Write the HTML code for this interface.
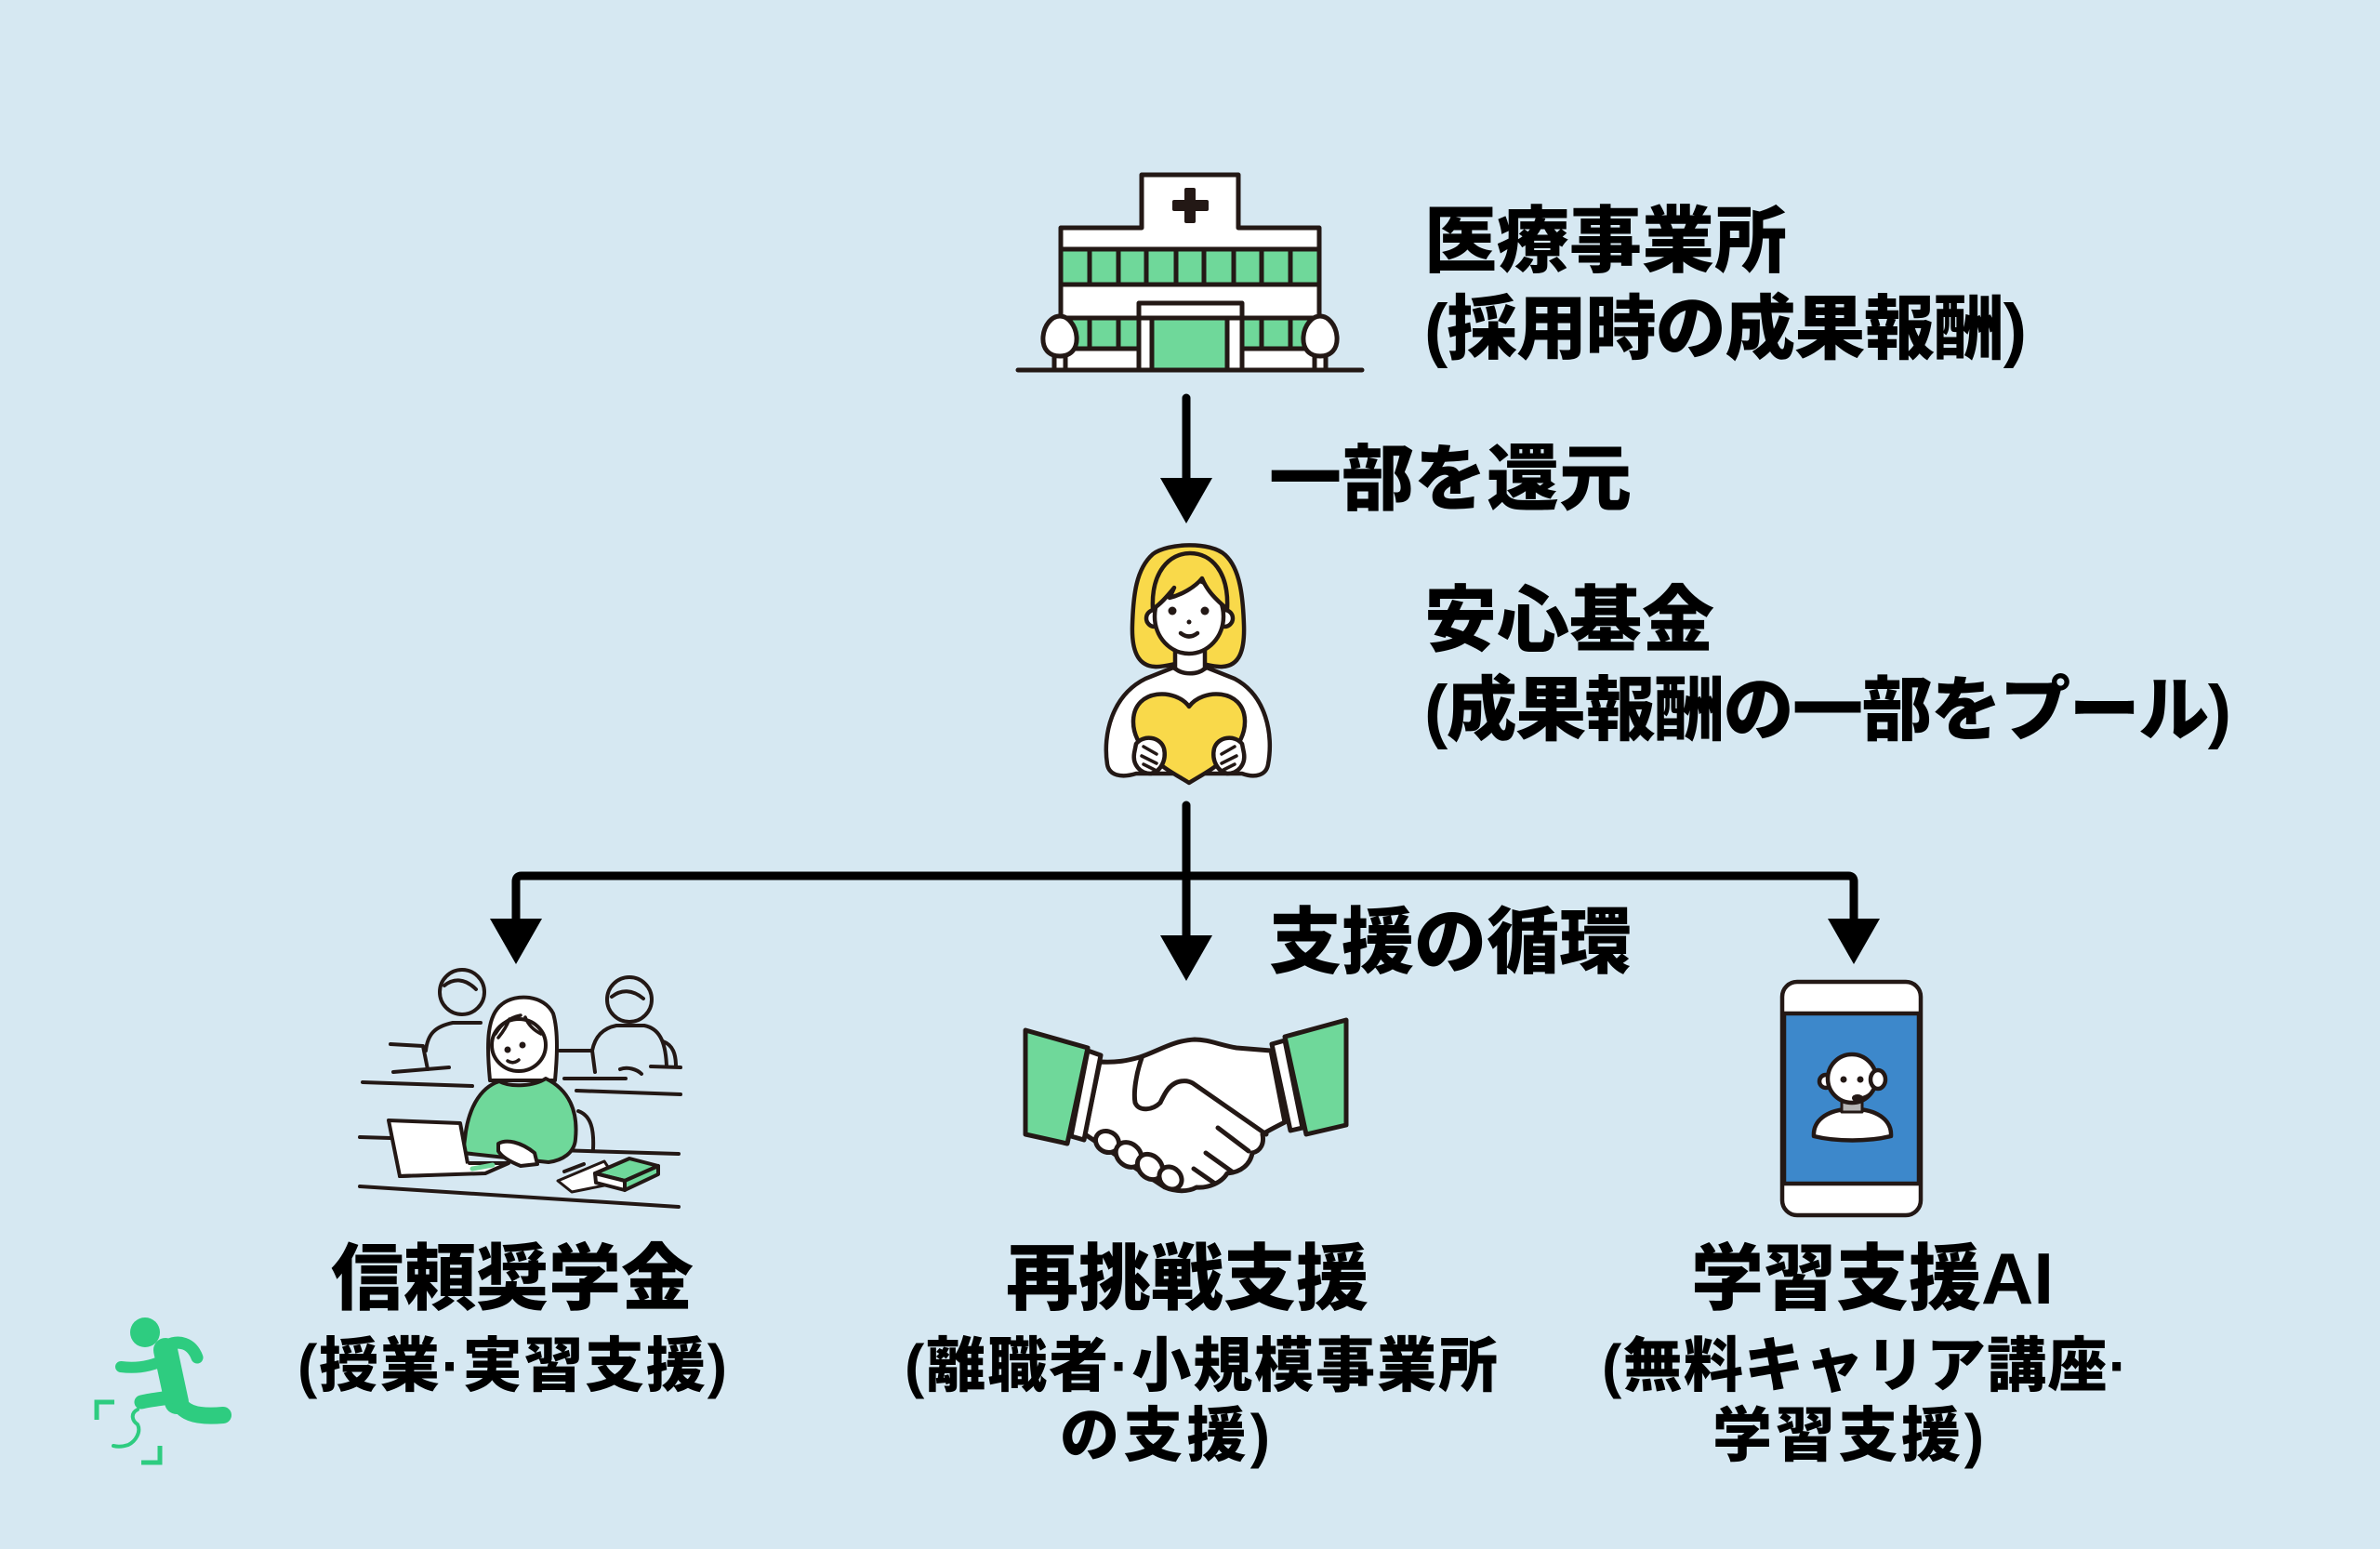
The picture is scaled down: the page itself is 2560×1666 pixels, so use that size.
<!DOCTYPE html>
<html lang="ja">
<head>
<meta charset="utf-8">
<style>
html,body{margin:0;padding:0;}
body{width:2560px;height:1666px;background:#d6e8f2;overflow:hidden;}
svg{display:block;}
text{font-family:"Liberation Sans","Noto Sans CJK JP",sans-serif;font-weight:900;fill:#000;}
</style>
</head>
<body>
<svg width="2560" height="1666" viewBox="0 0 2560 1666" xmlns="http://www.w3.org/2000/svg">
<rect x="0" y="0" width="2560" height="1666" fill="#d6e8f2"/>

<!-- ================= HOSPITAL ================= -->
<g stroke="#231815" stroke-width="5" stroke-linejoin="round">
  <path d="M1141,398 V245 H1228 V188 H1332 V245 H1419 V398 Z" fill="#ffffff"/>
  <rect x="1141" y="268" width="278" height="38" fill="#6fd89a"/>
  <g fill="none">
    <path d="M1172,268V306M1203,268V306M1233,268V306M1265,268V306M1295,268V306M1327,268V306M1357,268V306M1388,268V306"/>
  </g>
  <rect x="1141" y="342" width="84" height="33" fill="#6fd89a"/>
  <rect x="1336" y="342" width="83" height="33" fill="#6fd89a"/>
  <path d="M1172,342V375M1203,342V375M1357,342V375M1388,342V375" fill="none"/>
  <rect x="1225" y="326" width="111" height="72" fill="#ffffff"/>
  <path d="M1225,342H1336" fill="none"/>
  <rect x="1239" y="342" width="81" height="56" fill="#6fd89a"/>
  <!-- trees -->
  <rect x="1134" y="381" width="12" height="17" fill="#ffffff"/>
  <path d="M1140,383 C1128,383 1121,375 1122,362 C1123,350 1131,340 1140,340 C1149,340 1157,350 1158,362 C1159,375 1152,383 1140,383 Z" fill="#ffffff"/>
  <rect x="1414" y="381" width="12" height="17" fill="#ffffff"/>
  <path d="M1420,383 C1408,383 1401,375 1402,362 C1403,350 1411,340 1420,340 C1429,340 1437,350 1438,362 C1439,375 1432,383 1420,383 Z" fill="#ffffff"/>
  <path d="M1095,398 H1465" fill="none" stroke-linecap="round"/>
</g>
<g fill="#231815">
  <rect x="1274" y="202" width="12" height="38" rx="2"/>
  <rect x="1261" y="215" width="39" height="12" rx="2"/>
</g>

<!-- ================= ARROW 1 ================= -->
<path d="M1276,428 V522" stroke="#000" stroke-width="9" stroke-linecap="round" fill="none"/>
<polygon points="1248,514 1304,514 1276,563" fill="#000"/>

<!-- ================= WOMAN ================= -->
<g stroke="#231815" stroke-width="4.5" stroke-linejoin="round" stroke-linecap="round">
  <path d="M1242,717 C1224,716 1217,700 1218,672 C1219,640 1222,612 1240,596 C1256,584 1302,582 1318,597 C1334,612 1337,642 1338,672 C1339,700 1333,716 1315,717 C1305,718 1290,712 1279,712 C1268,712 1252,718 1242,717 Z" fill="#f9d94a"/>
  <path d="M1191,822 C1186,790 1196,748 1232,730 L1262,718 C1270,724 1290,724 1298,718 L1328,730 C1362,748 1370,790 1364,822 C1362,834 1350,837 1336,832 L1222,832 C1206,837 1193,834 1191,822 Z" fill="#ffffff"/>
  <path d="M1264,695 L1264,719 C1272,726 1288,726 1296,719 L1296,695 Z" fill="#ffffff"/>
  <circle cx="1242" cy="665" r="9" fill="#ffffff"/>
  <circle cx="1317" cy="665" r="9" fill="#ffffff"/>
  <ellipse cx="1279" cy="663" rx="37" ry="40" fill="#ffffff"/>
  <path d="M1240,655 C1238,615 1258,595 1280,595 C1303,595 1322,615 1320,655 C1308,645 1298,635 1293,622 C1285,632 1270,640 1258,643 L1263,632 C1255,642 1248,650 1240,655 Z" fill="#f9d94a"/>
  <path d="M1270,681 Q1279,688 1288,681" fill="none"/>
  <path d="M1279,760 C1265,740 1220,740 1219,775 C1218,810 1260,830 1279,842 C1298,830 1340,810 1339,775 C1338,740 1293,740 1279,760 Z" fill="#f9d94a"/>
  <path d="M1222,800 C1230,790 1248,792 1252,805 C1255,818 1248,830 1238,832 C1226,832 1218,822 1220,810 Z" fill="#ffffff"/>
  <path d="M1230,803 L1244,811 M1228,813 L1244,821 M1230,822 L1242,828" fill="none" stroke-width="3.5"/>
  <path d="M1336,800 C1328,790 1310,792 1306,805 C1303,818 1310,830 1320,832 C1332,832 1340,822 1338,810 Z" fill="#ffffff"/>
  <path d="M1328,803 L1314,811 M1330,813 L1314,821 M1328,822 L1316,828" fill="none" stroke-width="3.5"/>
</g>
<g fill="#231815">
  <circle cx="1261" cy="657" r="4.5"/>
  <circle cx="1296" cy="657" r="4.5"/>
  <circle cx="1279" cy="669" r="2.5"/>
</g>

<!-- ================= BRANCH ARROWS ================= -->
<g stroke="#000" stroke-width="9" fill="none" stroke-linecap="round" stroke-linejoin="round">
  <path d="M1276,866 V1010"/>
  <path d="M555,992 V948 Q555,942 561,942 H1988 Q1994,942 1994,948 V992"/>
</g>
<g fill="#000">
  <polygon points="527,988 583,988 555,1037"/>
  <polygon points="1966,988 2022,988 1994,1037"/>
  <polygon points="1248,1006 1304,1006 1276,1055"/>
</g>

<!-- ================= CLASSROOM ================= -->
<g stroke="#231815" stroke-width="4" stroke-linecap="round" stroke-linejoin="round" fill="none">
  <!-- back left person -->
  <circle cx="497" cy="1067" r="24"/>
  <path d="M478,1060 C488,1052 500,1052 512,1064"/>
  <path d="M458,1130 C460,1112 468,1104 487,1100 L517,1100"/>
  <path d="M420,1123 L455,1125 L460,1150"/>
  <path d="M423,1153 L483,1148"/>
  <!-- back right person -->
  <circle cx="677" cy="1075" r="24"/>
  <path d="M658,1072 C668,1064 680,1064 692,1074"/>
  <path d="M637,1130 C640,1115 648,1106 663,1103 L693,1103 C708,1106 716,1118 717,1147"/>
  <path d="M602,1130 L637,1130 L640,1153"/>
  <path d="M607,1160 L673,1160"/>
  <path d="M667,1150 C675,1147 685,1150 690,1155"/>
  <path d="M713,1120 C724,1124 727,1134 727,1147"/>
  <path d="M700,1147 L732,1148"/>
  <!-- desks -->
  <path d="M390,1164 L508,1168"/>
  <path d="M620,1173 L732,1177"/>
  <path d="M387,1223 L420,1224"/>
  <path d="M600,1237 L730,1241"/>
  <path d="M387,1276 L730,1298"/>
  <!-- chair -->
  <path d="M622,1195 C636,1200 639,1215 638,1236"/>
</g>
<g stroke="#231815" stroke-width="4" stroke-linecap="round" stroke-linejoin="round">
  <!-- girl hair -->
  <path d="M527,1162 C523,1120 524,1092 540,1080 C555,1068 585,1070 595,1090 C601,1110 599,1140 597,1162 Z" fill="#ffffff"/>
  <!-- sweater -->
  <path d="M537,1163 C515,1170 503,1195 500,1225 L498,1240 L590,1250 C605,1248 618,1240 619,1225 C622,1195 612,1172 587,1160 C575,1168 550,1170 537,1163 Z" fill="#6fd89a"/>
  <!-- face -->
  <ellipse cx="558" cy="1124" rx="29" ry="28" fill="#ffffff"/>
  <path d="M533,1112 C540,1100 550,1094 560,1092 M548,1096 C545,1104 541,1110 536,1116 M565,1094 C568,1102 574,1108 582,1112" fill="none" stroke-width="3.5"/>
  <path d="M546,1141 Q552,1145 558,1140" fill="none" stroke-width="3.5"/>
  <!-- laptop -->
  <polygon points="418,1205 495,1208 505,1262 430,1265" fill="#ffffff"/>
  <path d="M430,1265 L522,1262 L547,1251 L505,1251" fill="#ffffff"/>
  <path d="M508,1257 L530,1253" stroke="#6fd89a" stroke-width="5"/>
  <!-- hand -->
  <path d="M536,1230 C545,1225 560,1228 575,1240 L578,1252 L560,1254 C550,1250 540,1245 536,1238 Z" fill="#ffffff"/>
  <!-- paper -->
  <polygon points="600,1270 650,1249 665,1272 615,1282" fill="#ffffff" stroke-width="3"/>
  <path d="M607,1260 L628,1252" fill="none"/>
  <!-- book -->
  <polygon points="640,1262 677,1246 708,1254 672,1270" fill="#6fd89a"/>
  <polygon points="640,1262 672,1270 672,1280 641,1272" fill="#ffffff"/>
  <polygon points="672,1270 708,1254 708,1263 672,1280" fill="#6fd89a"/>
</g>
<g fill="#231815">
  <circle cx="546" cy="1129" r="3.5"/>
  <circle cx="562" cy="1124" r="3.5"/>
</g>

<!-- ================= HANDSHAKE ================= -->
<g stroke="#231815" stroke-width="5" stroke-linejoin="round" stroke-linecap="round">
  <path d="M1183,1142 C1200,1143 1212,1141 1226,1137 C1245,1131 1262,1119 1285,1118 C1300,1118 1312,1124 1330,1127 L1367,1130 L1382,1207 C1372,1212 1364,1216 1358,1220 C1360,1230 1356,1238 1347,1240 C1345,1252 1335,1261 1320,1262 C1314,1272 1300,1278 1287,1277 C1278,1282 1265,1282 1253,1277 L1230,1262 L1167,1220 Z" fill="#ffffff"/>
  <ellipse cx="1191" cy="1228" rx="13" ry="11" fill="#ffffff" transform="rotate(30 1191 1228)"/>
  <ellipse cx="1214" cy="1242" rx="15" ry="12" fill="#ffffff" transform="rotate(40 1214 1242)"/>
  <ellipse cx="1237" cy="1255" rx="15" ry="12" fill="#ffffff" transform="rotate(45 1237 1255)"/>
  <ellipse cx="1259" cy="1267" rx="13" ry="11" fill="#ffffff" transform="rotate(45 1259 1267)"/>
  <path d="M1228,1138 C1222,1155 1219,1175 1221,1186 C1225,1196 1240,1194 1248,1186 C1252,1178 1256,1168 1266,1164 C1272,1162 1278,1162 1283,1165 L1362,1220" fill="#ffffff"/>
  <path d="M1310,1213 L1343,1238 M1297,1240 L1325,1260 M1284,1257 L1307,1273" fill="none"/>
  <polygon points="1103,1108 1170,1127 1148,1230 1103,1220" fill="#6fd89a"/>
  <polygon points="1170,1130 1184,1135 1166,1226 1152,1222" fill="#ffffff"/>
  <polygon points="1382,1115 1448,1097 1448,1210 1405,1220" fill="#6fd89a"/>
  <polygon points="1368,1123 1382,1119 1401,1213 1388,1216" fill="#ffffff"/>
</g>

<!-- ================= PHONE ================= -->
<g stroke="#231815" stroke-width="4.5" stroke-linejoin="round">
  <rect x="1917" y="1056" width="149" height="251" rx="16" fill="#ffffff"/>
  <rect x="1919" y="1090" width="145" height="183" fill="#3d88cb"/>
  <path d="M1951,1222 C1950,1205 1965,1195 1985,1193 L2000,1193 C2020,1195 2035,1205 2034,1222 C2010,1228 1975,1228 1951,1222 Z" fill="#ffffff"/>
  <rect x="1981" y="1184" width="22" height="12" fill="#b5b5b5" stroke-width="3"/>
  <circle cx="1964" cy="1163" r="7" fill="#ffffff"/>
  <circle cx="1992" cy="1160" r="26" fill="#ffffff"/>
  <ellipse cx="2020" cy="1161" rx="8" ry="10" fill="#ffffff"/>
  <path d="M2016,1170 C2012,1178 2006,1180 2000,1181" fill="none" stroke-width="3"/>
  <ellipse cx="1998" cy="1181" rx="6" ry="4" fill="#231815" stroke="none"/>
</g>
<g fill="#231815">
  <circle cx="1983" cy="1161" r="3.5"/>
  <circle cx="2001" cy="1161" r="3.5"/>
</g>

<!-- ================= RUNNER LOGO ================= -->
<g stroke="#2ecc80" fill="none" stroke-linecap="round" stroke-linejoin="round">
  <circle cx="156" cy="1433" r="16" fill="#2ecc80" stroke="none"/>
  <path d="M178,1452 C182,1470 186,1490 190,1508" stroke-width="26"/>
  <path d="M180,1447 C192,1441 206,1444 212,1460" stroke-width="13"/>
  <path d="M178,1462 C162,1470 145,1472 130,1470" stroke-width="12"/>
  <path d="M190,1505 C196,1518 208,1525 240,1522" stroke-width="18"/>
  <path d="M182,1503 C170,1505 160,1506 152,1508" stroke-width="15"/>
  <path d="M148,1516 C140,1520 142,1528 148,1532 C152,1540 146,1550 138,1554 C132,1556 126,1556 122,1555" stroke-width="4"/>
  <path d="M123,1508 H104 V1527" stroke-width="5" stroke-linecap="butt" stroke-linejoin="miter"/>
  <path d="M152,1573 H172 V1555" stroke-width="5" stroke-linecap="butt" stroke-linejoin="miter"/>
</g>

<!-- ================= TEXT ================= -->
<text x="1532" y="286" font-size="78">医療事業所</text>
<text x="1532" y="380" font-size="76" textLength="648" lengthAdjust="spacing">(採用時の成果報酬)</text>
<text x="1365" y="542" font-size="78">一部を還元</text>
<text x="1532" y="694" font-size="78">安心基金</text>
<text x="1532" y="790" font-size="76" textLength="868" lengthAdjust="spacing">(成果報酬の一部をプール)</text>
<text x="1365" y="1040" font-size="78">支援の循環</text>

<text x="551" y="1402" font-size="78" text-anchor="middle">信頼奨学金</text>
<text x="1277" y="1402" font-size="78" text-anchor="middle">再挑戦支援</text>
<text x="2014" y="1402" font-size="78" text-anchor="middle">学習支援AI</text>

<text x="551" y="1491" font-size="64" text-anchor="middle" textLength="462" lengthAdjust="spacing">(授業·実習支援)</text>
<text x="1292" y="1491" font-size="64" text-anchor="middle" textLength="638" lengthAdjust="spacing">(離職者·小規模事業所</text>
<text x="1253" y="1566" font-size="64" text-anchor="middle" textLength="226" lengthAdjust="spacing">の支援)</text>
<text x="2006" y="1491" font-size="64" text-anchor="middle" textLength="566" lengthAdjust="spacing">(無料キャリア講座·</text>
<text x="1988" y="1566" font-size="64" text-anchor="middle" textLength="292" lengthAdjust="spacing">学習支援)</text>
</svg>
</body>
</html>
